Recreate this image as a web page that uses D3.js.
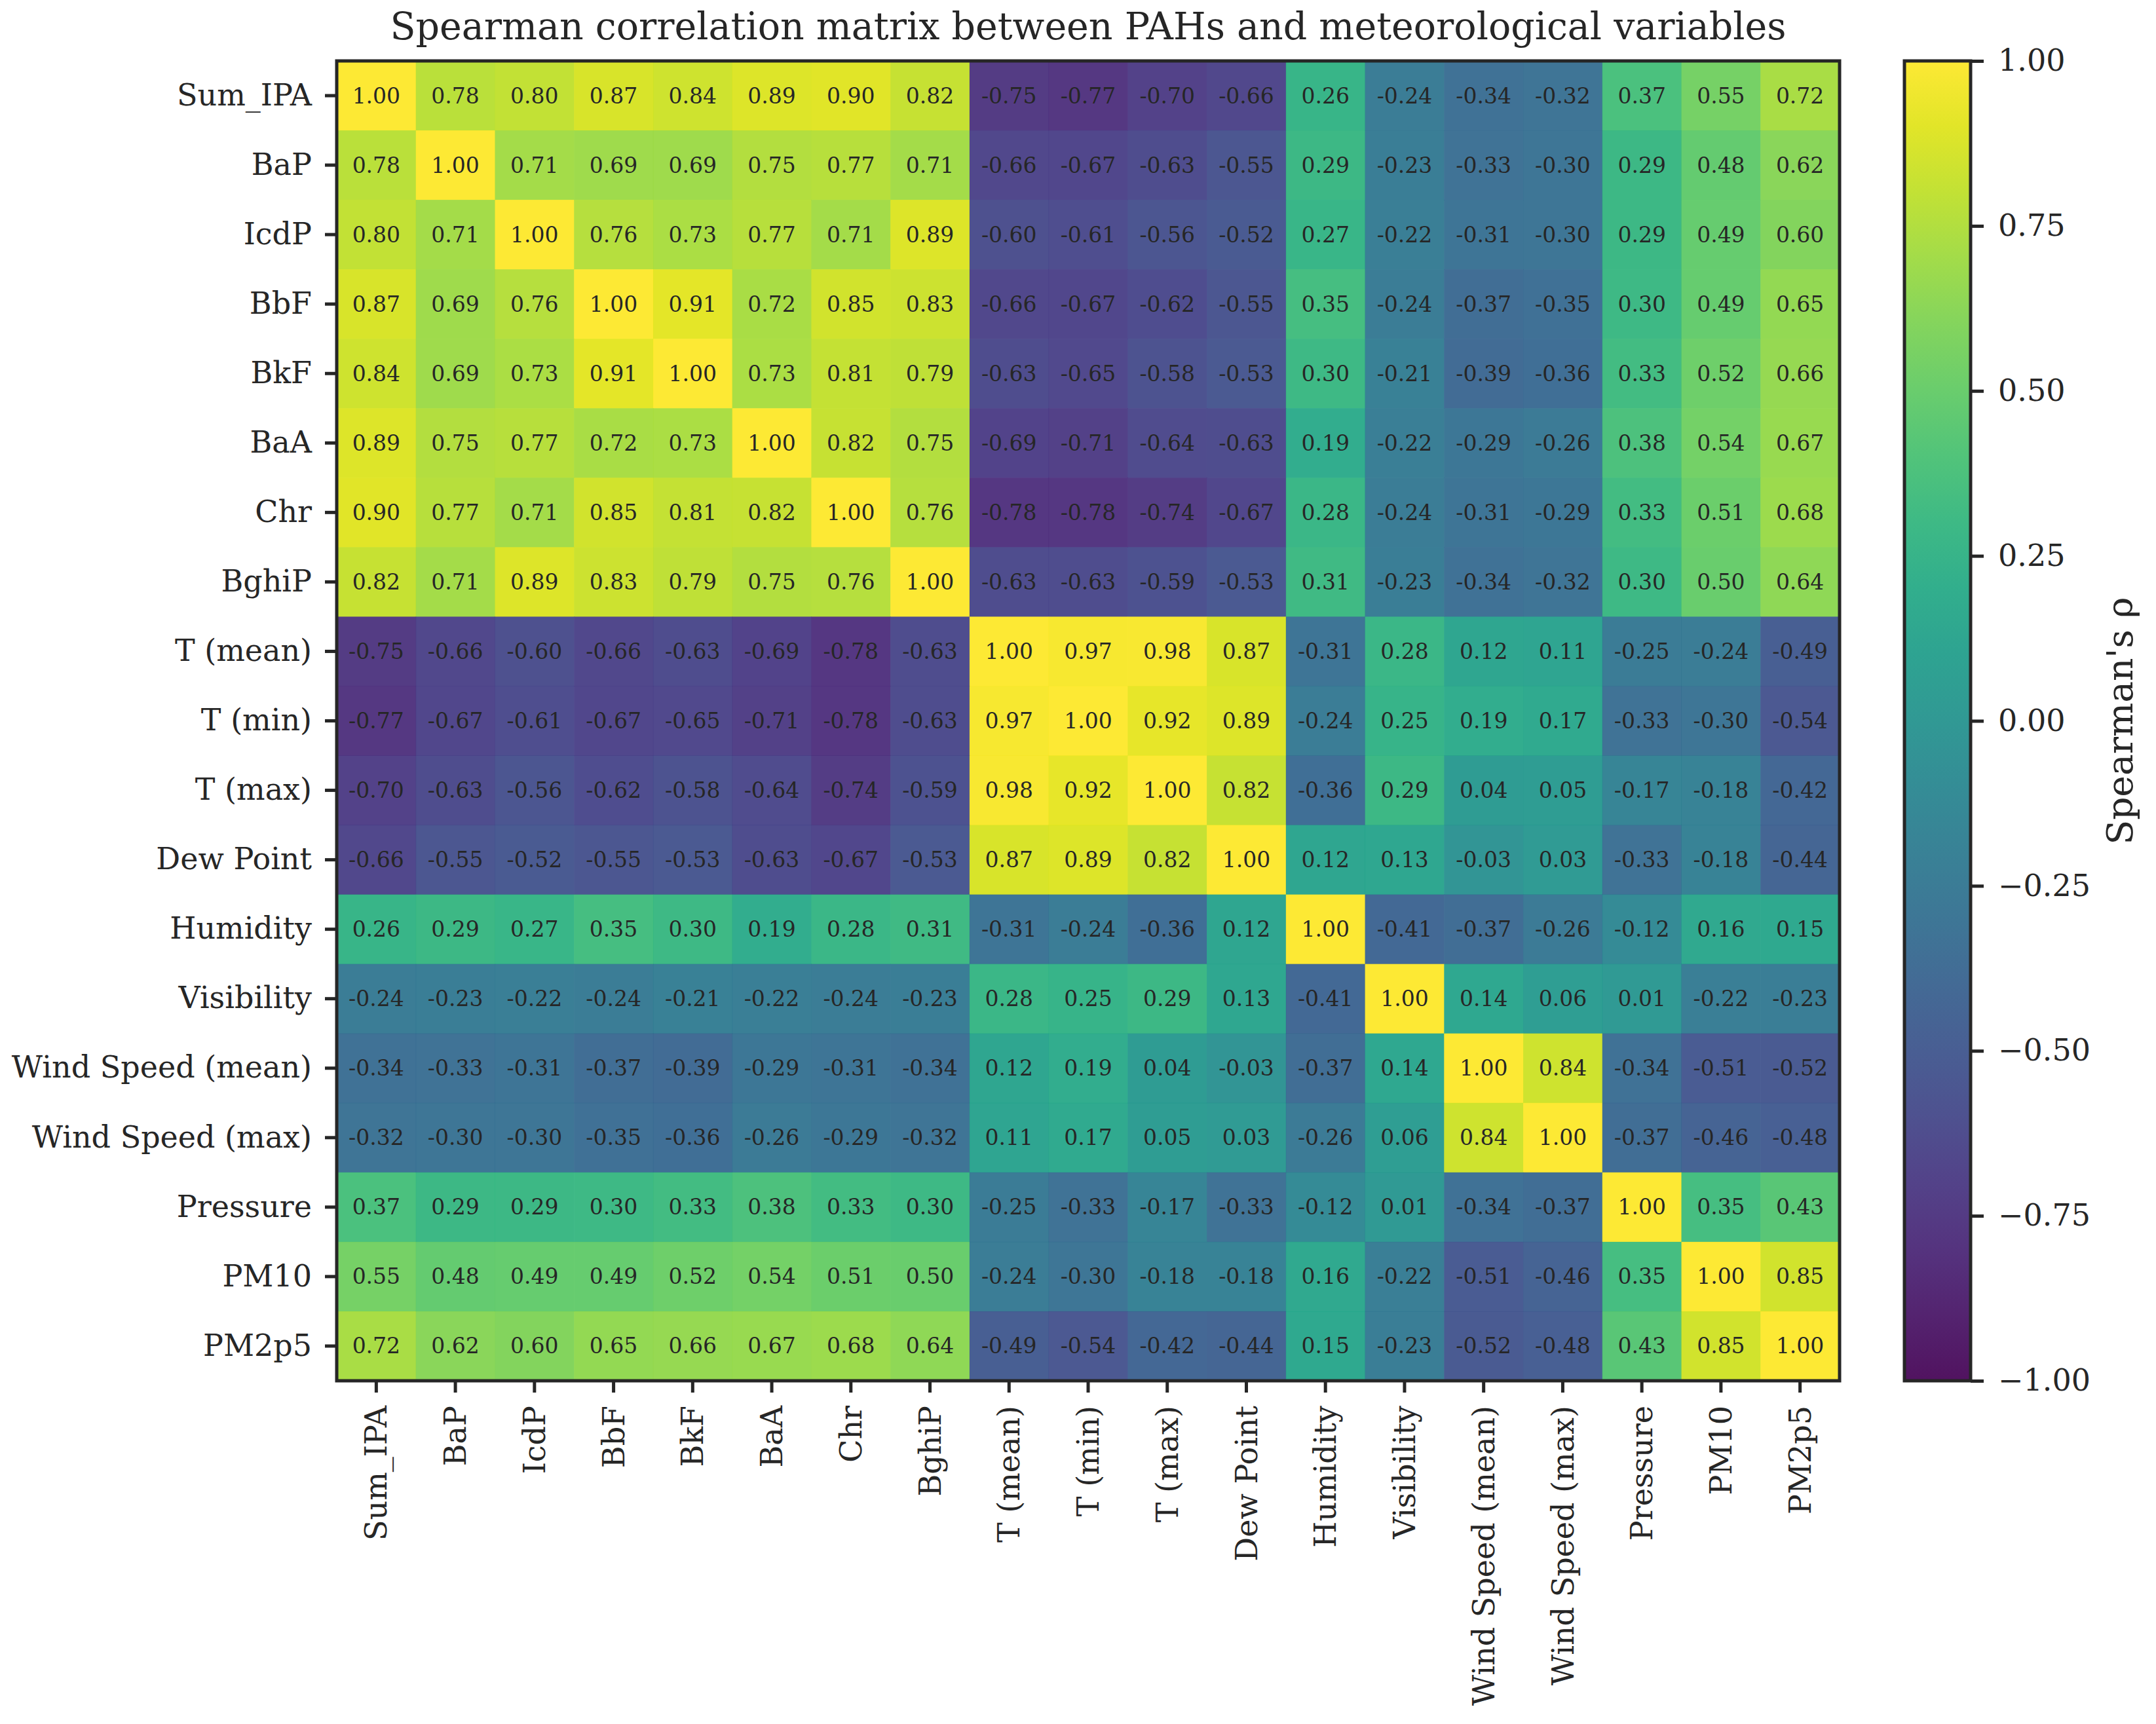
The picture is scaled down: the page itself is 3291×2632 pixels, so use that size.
<!DOCTYPE html>
<html>
<head>
<meta charset="utf-8">
<script src="https://cdn.jsdelivr.net/npm/d3@7"></script>
<style>
  body { margin: 0; background: #fff; }
  text { font-family: "DejaVu Serif", serif; fill: #262626; }
</style>
</head>
<body>
<div id="chart"></div>
<script>
// variable names (rows and columns are the same)
var vars = ["Sum_IPA", "BaP", "IcdP", "BbF", "BkF", "BaA", "Chr", "BghiP",
    "T (mean)", "T (min)", "T (max)", "Dew Point", "Humidity", "Visibility",
    "Wind Speed (mean)", "Wind Speed (max)", "Pressure", "PM10", "PM2p5"];

// spearman rho, one row per variable
var rhoSumIPA   = [1.00, 0.78, 0.80, 0.87, 0.84, 0.89, 0.90, 0.82, -0.75, -0.77, -0.70, -0.66, 0.26, -0.24, -0.34, -0.32, 0.37, 0.55, 0.72];
var rhoBaP      = [0.78, 1.00, 0.71, 0.69, 0.69, 0.75, 0.77, 0.71, -0.66, -0.67, -0.63, -0.55, 0.29, -0.23, -0.33, -0.30, 0.29, 0.48, 0.62];
var rhoIcdP     = [0.80, 0.71, 1.00, 0.76, 0.73, 0.77, 0.71, 0.89, -0.60, -0.61, -0.56, -0.52, 0.27, -0.22, -0.31, -0.30, 0.29, 0.49, 0.60];
var rhoBbF      = [0.87, 0.69, 0.76, 1.00, 0.91, 0.72, 0.85, 0.83, -0.66, -0.67, -0.62, -0.55, 0.35, -0.24, -0.37, -0.35, 0.30, 0.49, 0.65];
var rhoBkF      = [0.84, 0.69, 0.73, 0.91, 1.00, 0.73, 0.81, 0.79, -0.63, -0.65, -0.58, -0.53, 0.30, -0.21, -0.39, -0.36, 0.33, 0.52, 0.66];
var rhoBaA      = [0.89, 0.75, 0.77, 0.72, 0.73, 1.00, 0.82, 0.75, -0.69, -0.71, -0.64, -0.63, 0.19, -0.22, -0.29, -0.26, 0.38, 0.54, 0.67];
var rhoChr      = [0.90, 0.77, 0.71, 0.85, 0.81, 0.82, 1.00, 0.76, -0.78, -0.78, -0.74, -0.67, 0.28, -0.24, -0.31, -0.29, 0.33, 0.51, 0.68];
var rhoBghiP    = [0.82, 0.71, 0.89, 0.83, 0.79, 0.75, 0.76, 1.00, -0.63, -0.63, -0.59, -0.53, 0.31, -0.23, -0.34, -0.32, 0.30, 0.50, 0.64];
var rhoTmean    = [-0.75, -0.66, -0.60, -0.66, -0.63, -0.69, -0.78, -0.63, 1.00, 0.97, 0.98, 0.87, -0.31, 0.28, 0.12, 0.11, -0.25, -0.24, -0.49];
var rhoTmin     = [-0.77, -0.67, -0.61, -0.67, -0.65, -0.71, -0.78, -0.63, 0.97, 1.00, 0.92, 0.89, -0.24, 0.25, 0.19, 0.17, -0.33, -0.30, -0.54];
var rhoTmax     = [-0.70, -0.63, -0.56, -0.62, -0.58, -0.64, -0.74, -0.59, 0.98, 0.92, 1.00, 0.82, -0.36, 0.29, 0.04, 0.05, -0.17, -0.18, -0.42];
var rhoDew      = [-0.66, -0.55, -0.52, -0.55, -0.53, -0.63, -0.67, -0.53, 0.87, 0.89, 0.82, 1.00, 0.12, 0.13, -0.03, 0.03, -0.33, -0.18, -0.44];
var rhoHumidity = [0.26, 0.29, 0.27, 0.35, 0.30, 0.19, 0.28, 0.31, -0.31, -0.24, -0.36, 0.12, 1.00, -0.41, -0.37, -0.26, -0.12, 0.16, 0.15];
var rhoVisib    = [-0.24, -0.23, -0.22, -0.24, -0.21, -0.22, -0.24, -0.23, 0.28, 0.25, 0.29, 0.13, -0.41, 1.00, 0.14, 0.06, 0.01, -0.22, -0.23];
var rhoWindMean = [-0.34, -0.33, -0.31, -0.37, -0.39, -0.29, -0.31, -0.34, 0.12, 0.19, 0.04, -0.03, -0.37, 0.14, 1.00, 0.84, -0.34, -0.51, -0.52];
var rhoWindMax  = [-0.32, -0.30, -0.30, -0.35, -0.36, -0.26, -0.29, -0.32, 0.11, 0.17, 0.05, 0.03, -0.26, 0.06, 0.84, 1.00, -0.37, -0.46, -0.48];
var rhoPressure = [0.37, 0.29, 0.29, 0.30, 0.33, 0.38, 0.33, 0.30, -0.25, -0.33, -0.17, -0.33, -0.12, 0.01, -0.34, -0.37, 1.00, 0.35, 0.43];
var rhoPM10     = [0.55, 0.48, 0.49, 0.49, 0.52, 0.54, 0.51, 0.50, -0.24, -0.30, -0.18, -0.18, 0.16, -0.22, -0.51, -0.46, 0.35, 1.00, 0.85];
var rhoPM2p5    = [0.72, 0.62, 0.60, 0.65, 0.66, 0.67, 0.68, 0.64, -0.49, -0.54, -0.42, -0.44, 0.15, -0.23, -0.52, -0.48, 0.43, 0.85, 1.00];

var colorbarTicks = [-1.00, -0.75, -0.50, -0.25, 0.00, 0.25, 0.50, 0.75, 1.00];

var matrix = [rhoSumIPA, rhoBaP, rhoIcdP, rhoBbF, rhoBkF, rhoBaA, rhoChr, rhoBghiP,
    rhoTmean, rhoTmin, rhoTmax, rhoDew, rhoHumidity, rhoVisib,
    rhoWindMean, rhoWindMax, rhoPressure, rhoPM10, rhoPM2p5];

// flatten into cells
var cells = [];
matrix.forEach(function (row, i) {
    row.forEach(function (v, j) {
        cells.push({row: vars[i], col: vars[j], value: v});
    });
});

var W = 3291, H = 2632;
var plot = {left: 514, right: 2808, top: 93, bottom: 2108};
var cbar = {left: 2907, right: 3008};

var svg = d3.select("#chart").append("svg")
    .attr("width", W)
    .attr("height", H);

var x = d3.scaleBand().domain(vars).range([plot.left, plot.right]);
var y = d3.scaleBand().domain(vars).range([plot.top, plot.bottom]);
var color = d3.scaleSequential(d3.interpolateViridis).domain([-1, 1]);

// heatmap cells
svg.append("g").selectAll("rect")
    .data(cells)
    .enter()
    .append("rect")
    .attr("x", function (d) { return x(d.col); })
    .attr("y", function (d) { return y(d.row); })
    .attr("width", x.bandwidth() + 0.5)
    .attr("height", y.bandwidth() + 0.5)
    .attr("fill", function (d) { return color(d.value); })
    .attr("fill-opacity", 0.93);

// annotations
svg.append("g").selectAll("text")
    .data(cells)
    .enter()
    .append("text")
    .attr("x", function (d) { return x(d.col) + x.bandwidth() / 2; })
    .attr("y", function (d) { return y(d.row) + y.bandwidth() / 2; })
    .attr("text-anchor", "middle")
    .attr("dominant-baseline", "central")
    .style("font-size", "33px")
    .text(function (d) { return d.value.toFixed(2); });

// frame
svg.append("rect")
    .attr("x", plot.left)
    .attr("y", plot.top)
    .attr("width", plot.right - plot.left)
    .attr("height", plot.bottom - plot.top)
    .attr("fill", "none")
    .attr("stroke", "#262626")
    .attr("stroke-width", 5);

// y axis
var yAxis = svg.append("g")
    .attr("transform", "translate(" + plot.left + ",0)")
    .call(d3.axisLeft(y).tickSize(18).tickPadding(20));
yAxis.select(".domain").remove();
yAxis.selectAll(".tick line").attr("stroke", "#262626").attr("stroke-width", 5);
yAxis.selectAll(".tick text")
    .style("font-family", "DejaVu Serif")
    .style("font-size", "46px")
    .attr("fill", "#262626");

// x axis, labels rotated
var xAxis = svg.append("g")
    .attr("transform", "translate(0," + plot.bottom + ")")
    .call(d3.axisBottom(x).tickSize(18).tickPadding(20));
xAxis.select(".domain").remove();
xAxis.selectAll(".tick line").attr("stroke", "#262626").attr("stroke-width", 5);
xAxis.selectAll(".tick text")
    .style("font-family", "DejaVu Serif")
    .style("font-size", "46px")
    .attr("fill", "#262626")
    .attr("text-anchor", "end")
    .attr("transform", "rotate(-90)")
    .attr("x", -38)
    .attr("y", 0)
    .attr("dy", "0.35em");

// title
svg.append("text")
    .attr("x", (plot.left + plot.right) / 2)
    .attr("y", 60)
    .attr("text-anchor", "middle")
    .style("font-size", "57px")
    .text("Spearman correlation matrix between PAHs and meteorological variables");

// colorbar
var cy = d3.scaleLinear().domain([-1, 1]).range([plot.bottom, plot.top]);

var defs = svg.append("defs");
var grad = defs.append("linearGradient")
    .attr("id", "viridisGrad")
    .attr("x1", "0").attr("y1", "1")
    .attr("x2", "0").attr("y2", "0");
d3.range(0, 1.0001, 0.05).forEach(function (t) {
    grad.append("stop")
        .attr("offset", t)
        .attr("stop-color", d3.interpolateViridis(t));
});

svg.append("rect")
    .attr("x", cbar.left)
    .attr("y", plot.top)
    .attr("width", cbar.right - cbar.left)
    .attr("height", plot.bottom - plot.top)
    .attr("fill", "url(#viridisGrad)")
    .attr("fill-opacity", 0.93);

svg.append("rect")
    .attr("x", cbar.left)
    .attr("y", plot.top)
    .attr("width", cbar.right - cbar.left)
    .attr("height", plot.bottom - plot.top)
    .attr("fill", "none")
    .attr("stroke", "#262626")
    .attr("stroke-width", 5);

var cAxis = svg.append("g")
    .attr("transform", "translate(" + cbar.right + ",0)")
    .call(d3.axisRight(cy).tickValues(colorbarTicks).tickSize(20).tickPadding(22)
        .tickFormat(function (d) { return d3.format(".2f")(d).replace("-", "\u2212"); }));
cAxis.select(".domain").remove();
cAxis.selectAll(".tick line").attr("stroke", "#262626").attr("stroke-width", 5);
cAxis.selectAll(".tick text")
    .style("font-family", "DejaVu Serif")
    .style("font-size", "46px")
    .attr("fill", "#262626");

svg.append("text")
    .attr("transform", "translate(3236," + (plot.top + plot.bottom) / 2 + ")rotate(-90)")
    .attr("text-anchor", "middle")
    .attr("dominant-baseline", "central")
    .style("font-size", "55px")
    .text("Spearman's \u03c1");
</script>
</body>
</html>
